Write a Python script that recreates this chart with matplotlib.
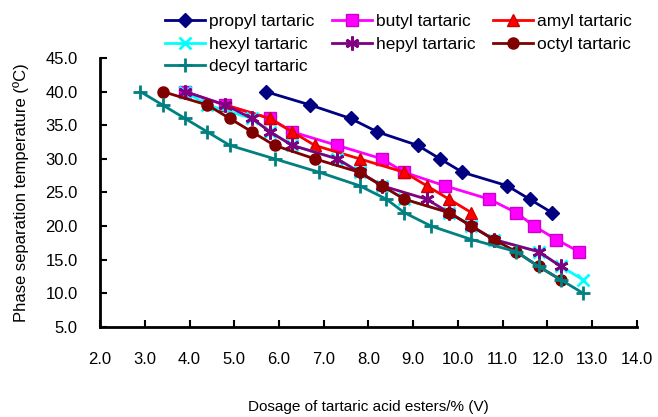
"""Phase separation temperature vs dosage of tartaric acid esters."""
import matplotlib
matplotlib.use("Agg")
import matplotlib.pyplot as plt

plt.rcParams["font.family"] = ["Liberation Sans", "DejaVu Sans"]

labels = ["propyl tartaric", "butyl tartaric", "amyl tartaric", "hexyl tartaric",
          "hepyl tartaric", "octyl tartaric", "decyl tartaric"]

propyl_x = [5.7, 6.7, 7.6, 8.2, 9.1, 9.6, 10.1, 11.1, 11.6, 12.1]
propyl_y = [40, 38, 36, 34, 32, 30, 28, 26, 24, 22]

butyl_x = [3.9, 4.8, 5.8, 6.3, 7.3, 8.3, 8.8, 9.7, 10.7, 11.3, 11.7, 12.2, 12.7]
butyl_y = [40, 38, 36, 34, 32, 30, 28, 26, 24, 22, 20, 18, 16.2]

amyl_x = [4.8, 5.8, 6.3, 6.8, 7.8, 8.8, 9.3, 9.8, 10.3]
amyl_y = [38, 36, 34, 32, 30, 28, 26, 24, 22]

hexyl_x = [3.9, 4.4, 5.4, 5.8, 6.3, 7.3, 7.8, 8.3, 8.8, 9.8, 10.3, 10.8, 11.8, 12.3, 12.8]
hexyl_y = [40, 38, 36, 34, 32, 30, 28, 26, 24, 22, 20, 18, 16.2, 14, 12]

hepyl_x = [3.9, 4.8, 5.4, 5.8, 6.3, 7.3, 7.8, 8.3, 9.3, 9.8, 10.3, 10.8, 11.8, 12.3]
hepyl_y = [40, 38, 36, 34, 32, 30, 28, 26, 24, 22, 20, 18, 16.2, 14]

octyl_x = [3.4, 4.4, 4.9, 5.4, 5.9, 6.8, 7.8, 8.3, 8.8, 9.8, 10.3, 10.8, 11.3, 11.8, 12.3]
octyl_y = [40, 38, 36, 34, 32, 30, 28, 26, 24, 22, 20, 18, 16.2, 14, 12]

decyl_x = [2.9, 3.4, 3.9, 4.4, 4.9, 5.9, 6.9, 7.8, 8.4, 8.8, 9.4, 10.3, 11.3, 11.8, 12.3, 12.8]
decyl_y = [40, 38, 36, 34, 32, 30, 28, 26, 24, 22, 20, 18, 16.2, 14, 12, 10]

xs = [propyl_x, butyl_x, amyl_x, hexyl_x, hepyl_x, octyl_x, decyl_x]
ys = [propyl_y, butyl_y, amyl_y, hexyl_y, hepyl_y, octyl_y, decyl_y]

colors = ["#000080", "#ff00ff", "#ff0000", "#00ffff", "#800080", "#800000", "#008080"]
edges = ["#000080", "#cc00cc", "#cc0000", "#00ffff", "#800080", "#800000", "#008080"]
markers = ["D", "s", "^", "x", (6, 2, 0), "o", "+"]
sizes = [7, 8, 8, 8, 10, 8, 10]

fig = plt.figure(figsize=(6.58, 4.17), dpi=100)
ax = fig.add_axes([0.152, 0.216, 0.816, 0.645])

handles = []
for x, y, lab, c, ec, m, s in zip(xs, ys, labels, colors, edges, markers, sizes):
    h, = ax.plot(x, y, color=c, lw=2, marker=m, markersize=s, markerfacecolor=c,
                 markeredgecolor=ec,
                 markeredgewidth=2 if m in ("x", "+", (6, 2, 0)) else 1,
                 label=lab)
    handles.append(h)

ax.set_xlim(2, 14)
ax.set_ylim(5, 45)
ax.set_xticks(range(2, 15))
ax.set_xticklabels([f"{v:.1f}" for v in range(2, 15)])
ax.set_yticks(range(5, 46, 5))
ax.set_yticklabels([f"{v:.1f}" for v in range(5, 46, 5)])
ax.tick_params(direction="in", length=5, width=1.5, labelsize=12)
ax.tick_params(axis="x", pad=18)
ax.tick_params(axis="y", pad=16)
for side in ("top", "right"):
    ax.spines[side].set_visible(False)
for side in ("left", "bottom"):
    ax.spines[side].set_linewidth(2)

ax.set_xlabel("Dosage of tartaric acid esters/% (V)", fontsize=11, labelpad=24)
ax.set_ylabel("Phase separation temperature (ºC)", fontsize=12, labelpad=12)

# matplotlib fills legend columns first; reorder so rows read left to right
order = [0, 3, 6, 1, 4, 2, 5]
fig.legend([handles[i] for i in order], [labels[i] for i in order],
           loc="upper left", bbox_to_anchor=(0.24, 0.983), ncol=3, frameon=False,
           fontsize=12.5, handlelength=2.3, columnspacing=1.0, labelspacing=0.42,
           handletextpad=0.25, borderaxespad=0.0)

fig.savefig("out.png", dpi=100)
